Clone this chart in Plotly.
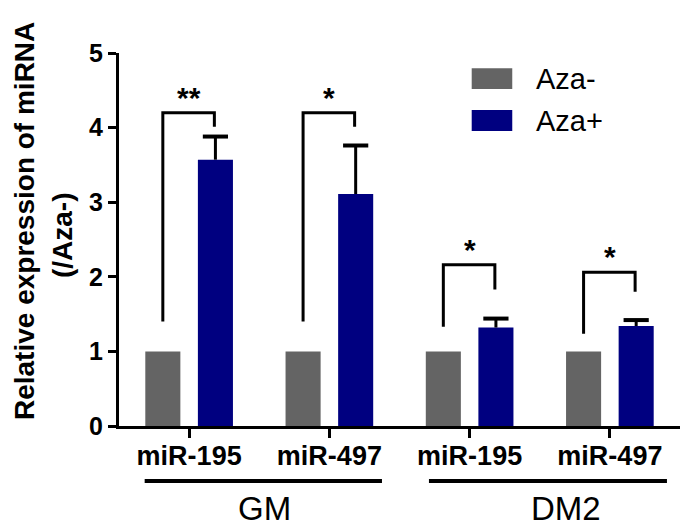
import plotly.graph_objects as go

# ---- data ----
categories = ["miR-195", "miR-497", "miR-195", "miR-497"]
groups = ["GM", "DM2"]
aza_minus = [1.0, 1.0, 1.0, 1.0]
aza_plus = [3.57, 3.11, 1.32, 1.34]
aza_plus_err = [0.31, 0.65, 0.12, 0.08]
# significance brackets: left leg start, top, right leg end, label
br_left = [1.40, 1.40, 1.33, 1.235]
br_top = [4.20, 4.20, 2.16, 2.06]
br_right = [4.01, 4.01, 1.83, 1.80]
br_label = ["**", "*", "*", "*"]
y_ticks = [0, 1, 2, 3, 4, 5]

FONT = "Arial, Liberation Sans, sans-serif"
GRAY = "#646464"
NAVY = "#000080"

xs = list(range(len(categories)))
BW = 0.25
OFF_MINUS = -0.3125
OFF_PLUS = 0.0625

fig = go.Figure()
fig.add_trace(go.Bar(x=xs, y=aza_minus, width=BW, offset=OFF_MINUS,
                     marker=dict(color=GRAY, line=dict(width=0)),
                     name="Aza-", showlegend=False))
fig.add_trace(go.Bar(x=xs, y=aza_plus, width=BW, offset=OFF_PLUS,
                     marker=dict(color=NAVY, line=dict(width=0)),
                     name="Aza+", showlegend=False,
                     error_y=dict(type="data", symmetric=False, array=aza_plus_err,
                                  arrayminus=[0] * len(aza_plus_err),
                                  color="black", thickness=3, width=0)))
# error bar caps (top only)
fig.add_trace(go.Scatter(x=[c + OFF_PLUS + BW / 2 for c in xs],
                         y=[v + e for v, e in zip(aza_plus, aza_plus_err)],
                         mode="markers", showlegend=False, hoverinfo="skip",
                         marker=dict(symbol="line-ew", size=18,
                                     line=dict(color="black", width=4))))

# brackets
bx, by = [], []
for i, c in enumerate(xs):
    l = c - 0.1875
    r = c + 0.18
    bx += [l, l, r, r, None]
    by += [br_left[i], br_top[i], br_top[i], br_right[i], None]
fig.add_trace(go.Scatter(x=bx, y=by, mode="lines", line=dict(color="black", width=3),
                         showlegend=False, hoverinfo="skip", cliponaxis=False))

annotations = []
for i, c in enumerate(xs):
    annotations.append(dict(x=c, y=br_top[i], xref="x", yref="y", text=br_label[i],
                            showarrow=False, yanchor="bottom", yshift=-3,
                            font=dict(family=FONT, size=30, color="black", weight="bold")))

shapes = []
# group lines and labels
group_spans = [(-0.317, 1.375), (1.71, 3.407)]
group_text_x = [0.534, 2.687]
for g, (x0, x1), tx in zip(groups, group_spans, group_text_x):
    shapes.append(dict(type="line", xref="x", yref="paper", x0=x0, x1=x1,
                       y0=-0.1475, y1=-0.1475, line=dict(color="black", width=4)))
    annotations.append(dict(x=tx, y=-0.2225, xref="x", yref="paper", text=g,
                            showarrow=False, xanchor="center", yanchor="middle",
                            font=dict(family=FONT, size=33, color="black")))

# custom legend
legend_items = [("Aza-", GRAY, 0.9035, 0.959, 0.931), ("Aza+", NAVY, 0.7909, 0.8472, 0.819)]
for name, col, y0, y1, ty in legend_items:
    shapes.append(dict(type="rect", xref="paper", yref="paper", x0=0.6287, x1=0.701,
                       y0=y0, y1=y1, fillcolor=col, line=dict(width=0)))
    annotations.append(dict(x=0.7398, y=ty, xref="paper", yref="paper", text=name,
                            showarrow=False, xanchor="left", yanchor="middle",
                            font=dict(family=FONT, size=29, color="black")))

# y axis title (two lines)
annotations.append(dict(x=-0.1675, y=0.5496, xref="paper", yref="paper",
                        text="Relative expression of miRNA", textangle=-90,
                        showarrow=False, xanchor="center", yanchor="middle",
                        font=dict(family=FONT, size=28, color="black", weight="bold")))
annotations.append(dict(x=-0.1015, y=0.512, xref="paper", yref="paper",
                        text="(/Aza-)", textangle=-90,
                        showarrow=False, xanchor="center", yanchor="middle",
                        font=dict(family=FONT, size=28, color="black", weight="bold")))

fig.update_layout(
    width=688, height=524,
    margin=dict(l=111, r=16, t=45, b=106),
    paper_bgcolor="white", plot_bgcolor="white",
    barmode="overlay",
    showlegend=False,
    annotations=annotations,
    shapes=shapes,
    xaxis=dict(range=[-0.5, 3.5], tickmode="array", tickvals=xs, ticktext=categories,
               showline=True, linecolor="black", linewidth=3,
               ticks="outside", ticklen=9, tickwidth=3, tickcolor="black",
               ticklabelstandoff=-5,
               showgrid=False, zeroline=False,
               tickfont=dict(family=FONT, size=27, color="black", weight="bold")),
    yaxis=dict(range=[0, 5], tickmode="array", tickvals=y_ticks,
               showline=True, linecolor="black", linewidth=3,
               ticks="outside", ticklen=8, tickwidth=3, tickcolor="black",
               showgrid=False, zeroline=False,
               tickfont=dict(family=FONT, size=25, color="black", weight="bold")),
)

fig.write_html("out.html")
